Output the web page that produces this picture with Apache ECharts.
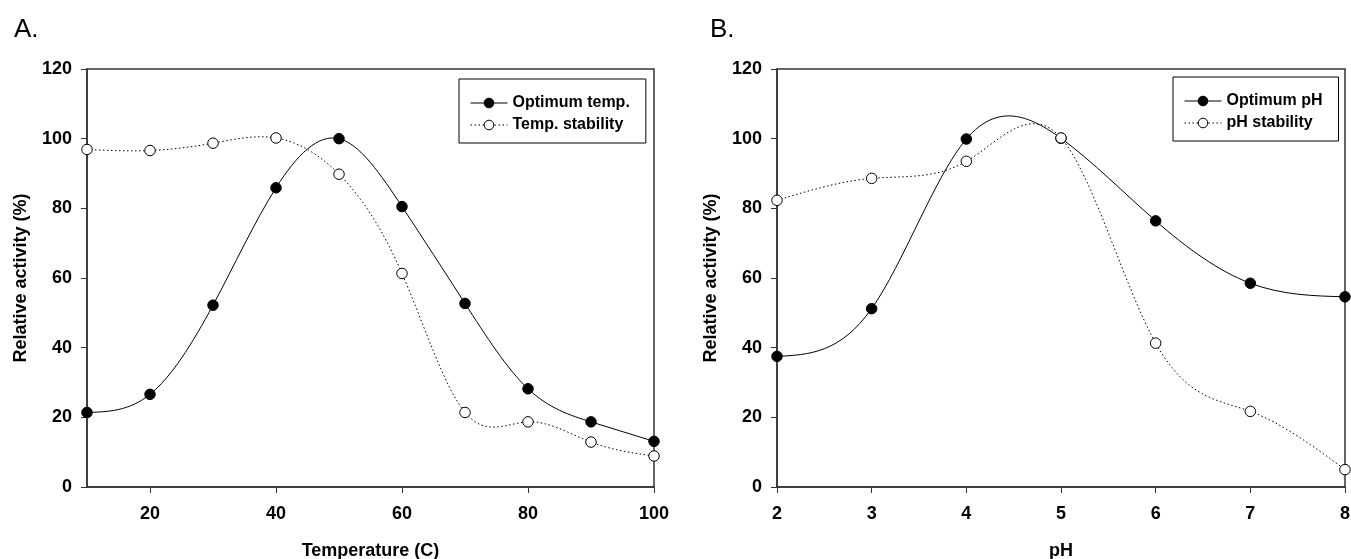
<!DOCTYPE html>
<html>
<head>
<meta charset="utf-8">
<script src="https://cdn.jsdelivr.net/npm/echarts@6/dist/echarts.min.js"></script>
<style>
html,body{margin:0;padding:0;background:#fff;}
#c{width:1351px;height:559px;}
</style>
</head>
<body>
<div id="c"></div>
<script>
// Panel A: temperature
const tempX = [10, 20, 30, 40, 50, 60, 70, 80, 90, 100];
const optTemp = [21.4, 26.6, 52.2, 85.9, 100.0, 80.5, 52.7, 28.2, 18.7, 13.1];
const stabTemp = [96.9, 96.6, 98.7, 100.2, 89.8, 61.3, 21.4, 18.7, 12.9, 8.9];
const tempTicks = [20, 40, 60, 80, 100];
// Panel B: pH
const phX = [2, 3, 4, 5, 6, 7, 8];
const optPH = [37.5, 51.2, 99.9, 100.1, 76.4, 58.5, 54.6];
const stabPH = [82.3, 88.6, 93.5, 100.2, 41.3, 21.7, 5.0];
const yTicks = [0, 20, 40, 60, 80, 100, 120];

const FONT = "'Liberation Sans', Arial, sans-serif";
const zip = (xs, ys) => xs.map((x, i) => [x, ys[i]]);

// Natural cubic spline through pixel points, emitted as Bezier path data
function splinePath(pts) {
  const n = pts.length;
  const x = pts.map(p => p[0]), y = pts.map(p => p[1]);
  const h = [];
  for (let i = 0; i < n - 1; i++) h.push(x[i + 1] - x[i]);
  const M = new Array(n).fill(0);
  if (n > 2) {
    const a = [], b = [], c = [], d = [];
    for (let i = 1; i < n - 1; i++) {
      a.push(h[i - 1]); b.push(2 * (h[i - 1] + h[i])); c.push(h[i]);
      d.push(6 * ((y[i + 1] - y[i]) / h[i] - (y[i] - y[i - 1]) / h[i - 1]));
    }
    const m = b.length;
    for (let i = 1; i < m; i++) {
      const w = a[i] / b[i - 1];
      b[i] -= w * c[i - 1];
      d[i] -= w * d[i - 1];
    }
    const sol = new Array(m);
    sol[m - 1] = d[m - 1] / b[m - 1];
    for (let i = m - 2; i >= 0; i--) sol[i] = (d[i] - c[i] * sol[i + 1]) / b[i];
    for (let i = 0; i < m; i++) M[i + 1] = sol[i];
  }
  let s = 'M' + x[0] + ' ' + y[0];
  for (let i = 0; i < n - 1; i++) {
    const hi = h[i];
    const dy = (y[i + 1] - y[i]) / hi;
    const s0 = dy - hi * (2 * M[i] + M[i + 1]) / 6;
    const s1 = dy + hi * (M[i] + 2 * M[i + 1]) / 6;
    s += ' C' + (x[i] + hi / 3) + ' ' + (y[i] + s0 * hi / 3) + ' ' +
      (x[i + 1] - hi / 3) + ' ' + (y[i + 1] - s1 * hi / 3) + ' ' + x[i + 1] + ' ' + y[i + 1];
  }
  return s;
}

const chart = echarts.init(document.getElementById('c'));

const yAxisBase = (gi) => ({
  type: 'value', gridIndex: gi, min: 0, max: 120, interval: 20,
  name: 'Relative activity (%)', nameLocation: 'middle', nameGap: 57,
  nameTextStyle: {fontFamily: FONT, fontWeight: 'bold', fontSize: 18, color: '#000'},
  axisLine: {show: true, lineStyle: {color: '#333', width: 1.5}},
  axisTick: {show: true, inside: false, length: 6, lineStyle: {color: '#333', width: 1}},
  axisLabel: {fontFamily: FONT, fontWeight: 'bold', fontSize: 18, color: '#000', margin: 15},
  splitLine: {show: false}
});

const DOT = [1.5, 2.5];

const markSeries = (name, data, xi, filled) => ({
  name, type: 'line', xAxisIndex: xi, yAxisIndex: xi, data,
  symbol: 'circle', symbolSize: 10.5,
  lineStyle: {opacity: 0},
  itemStyle: {color: filled ? '#000' : '#fff', borderColor: '#000', borderWidth: 1},
  z: filled ? 3 : 4
});

const curveSeries = (xs, ys, xi, dotted) => ({
  type: 'custom', xAxisIndex: xi, yAxisIndex: xi, data: zip(xs, ys),
  silent: true, z: 2,
  renderItem: function (params, api) {
    if (params.dataIndex !== 0) return null;
    const pts = xs.map((x, i) => api.coord([x, ys[i]]));
    return {
      type: 'path',
      shape: {pathData: splinePath(pts)},
      style: {stroke: '#000', lineWidth: 1, fill: null, lineDash: dotted ? DOT : null}
    };
  }
});

const legendBase = {
  orient: 'vertical', itemWidth: 37, itemHeight: 12, itemGap: 6,
  borderColor: '#000', borderWidth: 1, padding: [16, 16, 10, 11],
  textStyle: {fontFamily: FONT, fontWeight: 'bold', fontSize: 16, color: '#000'},
  backgroundColor: '#fff', selectedMode: false
};
const legItem = (name, dotted, filled) => ({
  name,
  lineStyle: {color: '#000', width: 1, type: dotted ? DOT : 'solid', opacity: 1},
  itemStyle: {color: filled ? '#000' : '#fff', borderColor: '#000', borderWidth: 1}
});

const gridBase = {top: 69, bottom: 72, show: true, borderColor: '#333', borderWidth: 1.5,
  backgroundColor: 'transparent', containLabel: false, outerBoundsMode: 'none'};

chart.setOption({
  animation: false,
  backgroundColor: '#fff',
  title: [
    {text: 'A.', left: 9, top: 12, textStyle: {fontFamily: FONT, fontWeight: 'normal', fontSize: 26, color: '#000'}},
    {text: 'B.', left: 705, top: 12, textStyle: {fontFamily: FONT, fontWeight: 'normal', fontSize: 26, color: '#000'}}
  ],
  grid: [
    Object.assign({}, gridBase, {left: 87, right: 697}),
    Object.assign({}, gridBase, {left: 777, right: 6})
  ],
  xAxis: [
    {
      type: 'value', gridIndex: 0, min: 10, max: 100,
      name: 'Temperature (C)', nameLocation: 'middle', nameGap: 55,
      nameTextStyle: {fontFamily: FONT, fontWeight: 'bold', fontSize: 18, color: '#000'},
      axisLine: {show: true, onZero: false, lineStyle: {color: '#333', width: 1.5}},
      axisTick: {show: true, length: 6, customValues: tempTicks, lineStyle: {color: '#333', width: 1}},
      axisLabel: {fontFamily: FONT, fontWeight: 'bold', fontSize: 18, color: '#000', margin: 18, customValues: tempTicks},
      splitLine: {show: false}
    },
    {
      type: 'value', gridIndex: 1, min: 2, max: 8, interval: 1,
      name: 'pH', nameLocation: 'middle', nameGap: 55,
      nameTextStyle: {fontFamily: FONT, fontWeight: 'bold', fontSize: 18, color: '#000'},
      axisLine: {show: true, onZero: false, lineStyle: {color: '#333', width: 1.5}},
      axisTick: {show: true, length: 6, lineStyle: {color: '#333', width: 1}},
      axisLabel: {fontFamily: FONT, fontWeight: 'bold', fontSize: 18, color: '#000', margin: 18},
      splitLine: {show: false}
    }
  ],
  yAxis: [yAxisBase(0), yAxisBase(1)],
  legend: [
    Object.assign({}, legendBase, {left: 459, top: 79, data: [legItem('Optimum temp.', false, true), legItem('Temp. stability', true, false)]}),
    Object.assign({}, legendBase, {left: 1173, top: 77, data: [legItem('Optimum pH', false, true), legItem('pH stability', true, false)]})
  ],
  series: [
    curveSeries(tempX, optTemp, 0, false),
    curveSeries(tempX, stabTemp, 0, true),
    curveSeries(phX, optPH, 1, false),
    curveSeries(phX, stabPH, 1, true),
    markSeries('Optimum temp.', zip(tempX, optTemp), 0, true),
    markSeries('Temp. stability', zip(tempX, stabTemp), 0, false),
    markSeries('Optimum pH', zip(phX, optPH), 1, true),
    markSeries('pH stability', zip(phX, stabPH), 1, false)
  ]
});
</script>
</body>
</html>
